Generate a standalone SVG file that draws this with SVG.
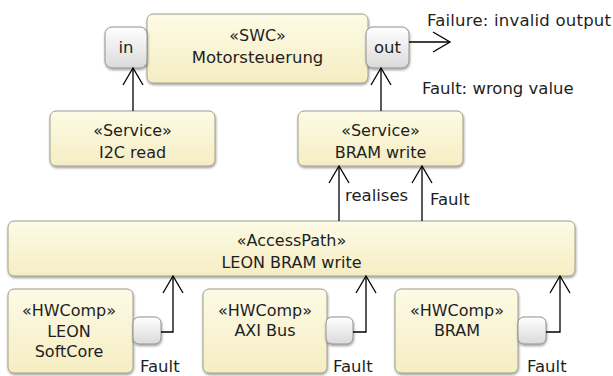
<svg xmlns="http://www.w3.org/2000/svg" width="613" height="376" viewBox="0 0 613 376">
  <style>
    text { font-family: "DejaVu Sans", "Liberation Sans", sans-serif; font-size: 16px; fill: #1e1e1e; }
    .c { text-anchor: middle; }
    .lbl { font-size: 16.5px; }
    .box { fill: url(#cream); stroke: #a09e8c; stroke-width: 1; filter: url(#shadow); }
    .port { fill: url(#silver); stroke: #929292; stroke-width: 1; filter: url(#shadow); }
    .wire { fill: none; stroke: #000; stroke-width: 1.3; }
    .arrow { marker-end: url(#open); }
  </style>
  <defs>
    <linearGradient id="cream" x1="0" y1="0" x2="0" y2="1">
      <stop offset="0" stop-color="#fdfbe6"/>
      <stop offset="1" stop-color="#f5edc3"/>
    </linearGradient>
    <linearGradient id="silver" x1="0" y1="0" x2="0" y2="1">
      <stop offset="0" stop-color="#ffffff"/>
      <stop offset="1" stop-color="#dadada"/>
    </linearGradient>
    <filter id="shadow" x="-10%" y="-10%" width="130%" height="140%">
      <feDropShadow dx="0.5" dy="1.5" stdDeviation="1.2" flood-color="#000" flood-opacity="0.4"/>
    </filter>
    <marker id="open" viewBox="-20 -12 22 24" refX="0" refY="0" markerWidth="22" markerHeight="24" markerUnits="userSpaceOnUse" orient="auto">
      <path d="M-17,-10 L0,0 L-17,10" fill="none" stroke="#000" stroke-width="1.3"/>
    </marker>
  </defs>

  <!-- software component with its ports -->
  <g id="swc">
    <rect class="box" x="147" y="14" width="221" height="69" rx="6"/>
    <text class="c" x="257.5" y="41">«SWC»</text>
    <text class="c" x="257.5" y="63" style="font-size:16.5px">Motorsteuerung</text>
  </g>
  <g id="port-in">
    <rect class="port" x="105" y="27" width="42" height="41" rx="7"/>
    <text class="c lbl" x="126" y="53">in</text>
  </g>
  <g id="port-out">
    <rect class="port" x="366" y="27" width="43" height="41" rx="7"/>
    <text class="c lbl" x="387.5" y="53">out</text>
  </g>

  <!-- services -->
  <g id="svc-i2c">
    <rect class="box" x="50" y="111" width="165" height="55" rx="6"/>
    <text class="c" x="132.5" y="136">«Service»</text>
    <text class="c" x="132.5" y="158">I2C read</text>
  </g>
  <g id="svc-bram">
    <rect class="box" x="298" y="111" width="165" height="55" rx="6"/>
    <text class="c" x="380.5" y="136">«Service»</text>
    <text class="c" x="380.5" y="158">BRAM write</text>
  </g>

  <!-- access path -->
  <g id="accesspath">
    <rect class="box" x="8" y="221" width="567" height="55" rx="6"/>
    <text class="c" x="291.5" y="246">«AccessPath»</text>
    <text class="c" x="291.5" y="268">LEON BRAM write</text>
  </g>

  <!-- hardware components -->
  <g id="hw-leon">
    <rect class="box" x="8" y="289" width="125" height="84" rx="6"/>
    <text class="c" x="69" y="316">«HWComp»</text>
    <text class="c" x="69" y="337">LEON</text>
    <text class="c" x="69" y="357">SoftCore</text>
    <rect class="port" x="133" y="317" width="28" height="27" rx="6"/>
  </g>
  <g id="hw-axi">
    <rect class="box" x="203" y="289" width="124" height="84" rx="6"/>
    <text class="c" x="265" y="316">«HWComp»</text>
    <text class="c" x="265" y="336">AXI Bus</text>
    <rect class="port" x="326" y="317" width="27" height="27" rx="6"/>
  </g>
  <g id="hw-bram">
    <rect class="box" x="395" y="289" width="123" height="84" rx="6"/>
    <text class="c" x="457" y="316">«HWComp»</text>
    <text class="c" x="457" y="336">BRAM</text>
    <rect class="port" x="518" y="317" width="28" height="27" rx="6"/>
  </g>

  <!-- connectors -->
  <g id="connectors">
    <path class="wire arrow" d="M133,111 V68"/>
    <path class="wire arrow" d="M381,111 V68"/>
    <path class="wire arrow" d="M409,42 H450"/>
    <path class="wire arrow" d="M339,221 V166"/>
    <path class="wire arrow" d="M422,221 V166"/>
    <path class="wire arrow" d="M161,332 H173 V276"/>
    <path class="wire arrow" d="M353,332 H366 V276"/>
    <path class="wire arrow" d="M546,332 H560 V276"/>
  </g>

  <!-- connector labels -->
  <g id="labels">
    <text class="lbl" x="427" y="26" textLength="184" lengthAdjust="spacing">Failure: invalid output</text>
    <text class="lbl" x="422" y="94">Fault: wrong value</text>
    <text class="lbl" x="345" y="201">realises</text>
    <text class="lbl" x="430" y="205">Fault</text>
    <text class="lbl" x="140" y="372">Fault</text>
    <text class="lbl" x="333" y="372">Fault</text>
    <text class="lbl" x="527" y="372">Fault</text>
  </g>
</svg>
